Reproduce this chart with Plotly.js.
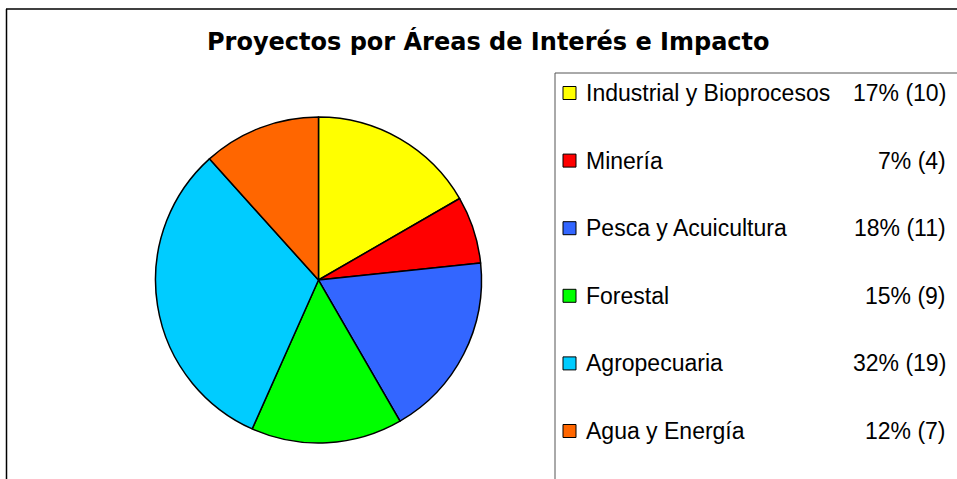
<!DOCTYPE html>
<html>
<head>
<meta charset="utf-8">
<script src="https://cdn.plot.ly/plotly-3.0.1.min.js"></script>
<style>html,body{margin:0;padding:0;background:#fff;}#chart{width:957px;height:479px;}</style>
</head>
<body>
<div id="chart"></div>
<script>
const categories = ["Industrial y Bioprocesos", "Minería", "Pesca y Acuicultura", "Forestal", "Agropecuaria", "Agua y Energía"];
const values = [10, 4, 11, 9, 19, 7];
const colors = ["#FFFF00", "#FF0000", "#3366FF", "#00FF00", "#00CCFF", "#FF6600"];
const titleText = "Proyectos por Áreas de Interés e Impacto";

const W = 957, H = 479;
const px = x => x / W;
const py = y => 1 - y / H;
const total = values.reduce((a, b) => a + b, 0);
const FONT = "Liberation Sans, Arial, sans-serif";
const TITLE_FONT = "DejaVu Sans, Liberation Sans, sans-serif";

const cx = 318.5, cy = 280, r = 163;
const trace = {
  type: "pie",
  labels: categories,
  values: values,
  sort: false,
  direction: "clockwise",
  rotation: 0,
  textinfo: "none",
  hoverinfo: "label+value+percent",
  marker: {colors: colors, line: {color: "#000000", width: 1.5}},
  domain: {x: [px(cx - r), px(cx + r)], y: [py(cy + r), py(cy - r)]},
  showlegend: false
};

const shapes = [
  {type: "line", xref: "paper", yref: "paper", x0: px(6), x1: px(960), y0: py(9), y1: py(9), line: {color: "#000", width: 1.5}},
  {type: "line", xref: "paper", yref: "paper", x0: px(6.5), x1: px(6.5), y0: py(9), y1: py(485), line: {color: "#000", width: 1.5}},
  {type: "rect", xref: "paper", yref: "paper", x0: px(555), x1: px(965), y0: py(73), y1: py(490), line: {color: "#555", width: 1}, fillcolor: "rgba(0,0,0,0)"}
];
const annotations = [
  {xref: "paper", yref: "paper", x: px(488.5), y: py(42), xanchor: "center", yanchor: "middle", showarrow: false,
   text: "<b>" + titleText + "</b>", font: {family: TITLE_FONT, size: 24, color: "#000"}}
];
const rowY0 = 93, rowStep = 67.6;
categories.forEach((c, i) => {
  const y = rowY0 + i * rowStep;
  shapes.push({type: "rect", xref: "paper", yref: "paper", x0: px(563), x1: px(576), y0: py(y + 6.5), y1: py(y - 6.5),
    fillcolor: colors[i], line: {color: "#000", width: 1}});
  annotations.push({xref: "paper", yref: "paper", x: px(584), y: py(y), xanchor: "left", yanchor: "middle", showarrow: false,
    text: c, font: {family: FONT, size: 23, color: "#000"}});
  const pct = Math.round(values[i] / total * 100);
  annotations.push({xref: "paper", yref: "paper", x: px(948), y: py(y), xanchor: "right", yanchor: "middle", showarrow: false,
    text: pct + "% (" + values[i] + ")", font: {family: FONT, size: 23, color: "#000"}});
});

const layout = {
  width: W, height: H,
  margin: {l: 0, r: 0, t: 0, b: 0},
  paper_bgcolor: "#fff",
  plot_bgcolor: "#fff",
  shapes: shapes,
  annotations: annotations,
  showlegend: false
};
Plotly.newPlot("chart", [trace], layout, {displayModeBar: false, staticPlot: true});
</script>
</body>
</html>
